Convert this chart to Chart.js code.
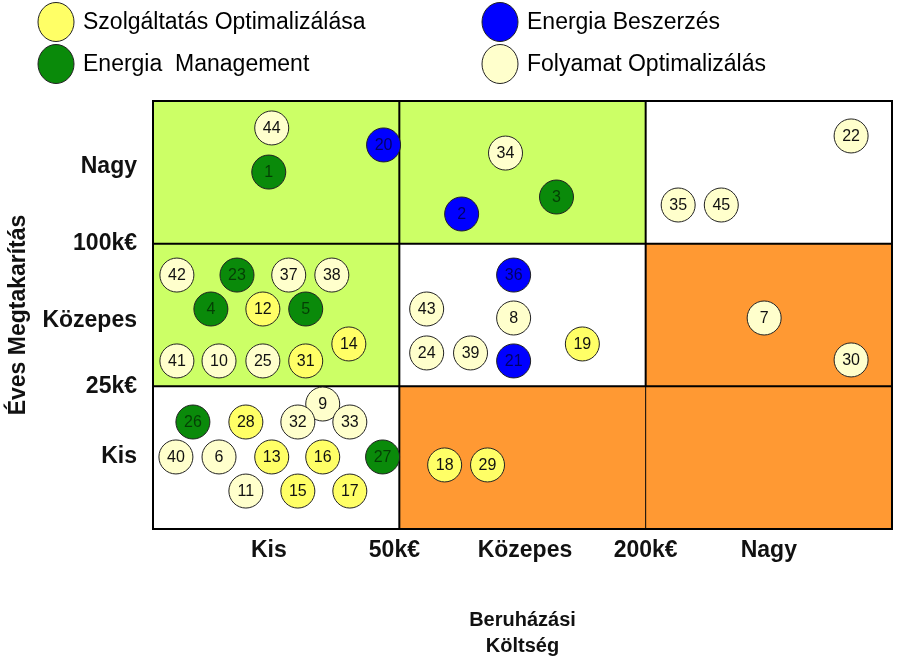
<!DOCTYPE html>
<html>
<head>
<meta charset="utf-8">
<script src="https://cdn.jsdelivr.net/npm/chart.js@4/dist/chart.umd.min.js"></script>
<style>
  html, body { margin: 0; padding: 0; background: #fff; }
</style>
</head>
<body>
<canvas id="matrix" width="910" height="663"></canvas>
<script>
// axis ticks (positions, in cell units 0..3)
const xTickValues = [0.47, 0.98, 1.51, 2.0, 2.5];
const xTickLabels = ['Kis', '50k€', 'Közepes', '200k€', 'Nagy'];
const yTickValues = [0.505, 1.0, 1.46, 2.0, 2.54];
const yTickLabels = ['Kis', '25k€', 'Közepes', '100k€', 'Nagy'];

// Szolgáltatás Optimalizálása
const szolgIds = [12, 31, 14, 19, 28, 13, 16, 15, 17, 18, 29];
const szolgX = [0.446, 0.620, 0.795, 1.743, 0.377, 0.482, 0.689, 0.588, 0.799, 1.184, 1.358];
const szolgY = [1.542, 1.178, 1.297, 1.297, 0.750, 0.505, 0.505, 0.266, 0.266, 0.449, 0.449];

// Energia Management
const mgmtIds = [1, 3, 23, 4, 5, 26, 27];
const mgmtX = [0.470, 1.638, 0.341, 0.235, 0.620, 0.162, 0.932];
const mgmtY = [2.502, 2.327, 1.780, 1.542, 1.542, 0.750, 0.505];

// Energia Beszerzés
const beszIds = [20, 2, 36, 21];
const beszX = [0.936, 1.253, 1.464, 1.464];
const beszY = [2.692, 2.208, 1.780, 1.178];

// Folyamat Optimalizálás
const folyIds = [44, 34, 22, 35, 45, 42, 37, 38, 41, 10, 25, 43, 8, 24, 39, 7, 30, 9, 32, 33, 40, 6, 11];
const folyX = [0.482, 1.431, 2.834, 2.132, 2.307, 0.097, 0.551, 0.726, 0.097, 0.268, 0.446, 1.111, 1.464, 1.111, 1.289, 2.481, 2.834, 0.689, 0.588, 0.799, 0.093, 0.268, 0.377];
const folyY = [2.811, 2.635, 2.755, 2.271, 2.271, 1.780, 1.780, 1.780, 1.178, 1.178, 1.178, 1.542, 1.479, 1.234, 1.234, 1.479, 1.185, 0.876, 0.750, 0.750, 0.505, 0.505, 0.266];

const FONT = '"Liberation Sans", Arial, sans-serif';

const toPoints = (xs, ys) => xs.map((x, i) => ({ x: x, y: ys[i] }));

const mkSet = (label, ids, xs, ys, fill, textColor) => ({
  label: label,
  ids: ids,
  textColor: textColor,
  data: toPoints(xs, ys),
  backgroundColor: fill,
  borderColor: '#222',
  borderWidth: 1,
  pointRadius: 17,
  pointHoverRadius: 17
});

// cell fills, bottom row first (x: cost, y: savings)
const cellColors = [
  ['#ffffff', '#ff9933', '#ff9933'],
  ['#ccff66', '#ffffff', '#ff9933'],
  ['#ccff66', '#ccff66', '#ffffff']
];

const matrixPlugin = {
  id: 'matrix',
  beforeDatasetsDraw(chart) {
    const { ctx, scales: { x, y } } = chart;
    ctx.save();
    for (let r = 0; r < 3; r++) {
      for (let c = 0; c < 3; c++) {
        const x0 = x.getPixelForValue(c), x1 = x.getPixelForValue(c + 1);
        const y0 = y.getPixelForValue(r + 1), y1 = y.getPixelForValue(r);
        ctx.fillStyle = cellColors[r][c];
        ctx.fillRect(x0, y0, x1 - x0, y1 - y0);
      }
    }
    ctx.strokeStyle = '#000';
    ctx.lineWidth = 2;
    const line = (ax, ay, bx, by, w) => {
      ctx.lineWidth = w;
      ctx.beginPath();
      ctx.moveTo(x.getPixelForValue(ax), y.getPixelForValue(ay));
      ctx.lineTo(x.getPixelForValue(bx), y.getPixelForValue(by));
      ctx.stroke();
    };
    line(1, 0, 1, 3, 2);
    line(2, 1, 2, 3, 2);
    line(2, 0, 2, 1, 1);
    line(0, 1, 3, 1, 2);
    line(0, 2, 3, 2, 2);
    ctx.lineWidth = 2;
    ctx.strokeRect(x.left, y.top, x.right - x.left, y.bottom - y.top);
    ctx.restore();
  },
  afterDatasetsDraw(chart) {
    const { ctx } = chart;
    ctx.save();
    ctx.font = '16px ' + FONT;
    ctx.textAlign = 'center';
    ctx.textBaseline = 'middle';
    chart.data.datasets.forEach((ds, di) => {
      const meta = chart.getDatasetMeta(di);
      ctx.fillStyle = ds.textColor;
      meta.data.forEach((pt, i) => {
        ctx.fillText(String(ds.ids[i]), pt.x, pt.y + 1);
      });
    });
    ctx.restore();
  },
  afterDraw(chart) {
    // legend, 2 x 2
    const { ctx } = chart;
    const cols = [56, 500];
    const rows = [22, 64];
    ctx.save();
    ctx.font = '23px ' + FONT;
    ctx.textBaseline = 'middle';
    ctx.textAlign = 'left';
    chart.data.datasets.forEach((ds, i) => {
      const cx = cols[Math.floor(i / 2)], cy = rows[i % 2];
      ctx.beginPath();
      ctx.ellipse(cx, cy, 18, 19.5, 0, 0, Math.PI * 2);
      ctx.fillStyle = ds.backgroundColor;
      ctx.fill();
      ctx.lineWidth = 1;
      ctx.strokeStyle = '#222';
      ctx.stroke();
      ctx.fillStyle = '#000';
      ctx.fillText(ds.label, cx + 27, cy + 1);
    });
    ctx.restore();
  }
};

new Chart(document.getElementById('matrix'), {
  type: 'scatter',
  data: {
    datasets: [
      mkSet('Szolgáltatás Optimalizálása', szolgIds, szolgX, szolgY, '#ffff66', '#111'),
      mkSet('Energia  Management', mgmtIds, mgmtX, mgmtY, '#0a8a0a', 'rgba(0,0,0,0.55)'),
      mkSet('Energia Beszerzés', beszIds, beszX, beszY, '#0000ff', 'rgba(0,0,0,0.6)'),
      mkSet('Folyamat Optimalizálás', folyIds, folyX, folyY, '#ffffcc', '#111')
    ]
  },
  options: {
    responsive: false,
    animation: false,
    events: [],
    layout: { padding: { top: 101, right: 17, left: 0, bottom: 0 } },
    plugins: {
      legend: { display: false },
      tooltip: { enabled: false }
    },
    scales: {
      x: {
        type: 'linear',
        min: 0,
        max: 3,
        afterBuildTicks: s => { s.ticks = xTickValues.map(v => ({ value: v })); },
        afterFit: s => { s.height = 134; },
        grid: { display: false, drawTicks: false },
        border: { display: false },
        ticks: {
          autoSkip: false,
          maxRotation: 0,
          padding: 8,
          color: '#111',
          font: { family: FONT, size: 23, weight: 'bold' },
          callback: (v, i) => xTickLabels[i]
        },
        title: {
          display: true,
          text: ['Beruházási', 'Költség'],
          color: '#111',
          font: { family: FONT, size: 20, weight: 'bold', lineHeight: 1.3 },
          padding: { top: 0, bottom: 4 }
        }
      },
      y: {
        type: 'linear',
        min: 0,
        max: 3,
        afterBuildTicks: s => { s.ticks = yTickValues.map(v => ({ value: v })); },
        afterFit: s => { s.width = 153; },
        grid: { display: false, drawTicks: false },
        border: { display: false },
        ticks: {
          autoSkip: false,
          padding: 16,
          color: '#111',
          font: { family: FONT, size: 23, weight: 'bold' },
          callback: (v, i) => yTickLabels[i]
        },
        title: {
          display: true,
          text: 'Éves Megtakarítás',
          color: '#111',
          font: { family: FONT, size: 23, weight: 'bold', lineHeight: 1.2 },
          padding: { top: 5, bottom: 0 }
        }
      }
    }
  },
  plugins: [matrixPlugin]
});
</script>
</body>
</html>
